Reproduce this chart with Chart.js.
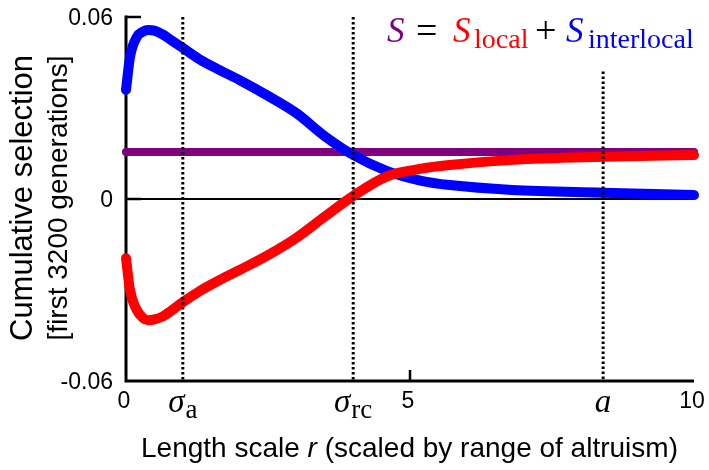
<!DOCTYPE html>
<html>
<head>
<meta charset="utf-8">
<script src="https://cdn.jsdelivr.net/npm/chart.js@4/dist/chart.umd.min.js"></script>
<style>
  html, body { margin: 0; padding: 0; background: #fff; }
  canvas { display: block; }
</style>
</head>
<body>
<canvas id="chart" width="709" height="470"></canvas>
<script>
// Length scale r (in units of the range of altruism)
const rValues     = [0, 0.07, 0.19, 0.3, 0.39, 0.5, 0.65, 0.8, 1.0, 1.3, 1.65, 2.0, 2.5, 3.0, 3.5, 4.0, 4.6, 5.2, 5.7, 6.8, 8.4, 10];
// Interlocal selection component (blue)
const sInterlocal = [0.036, 0.0468, 0.0534, 0.0552, 0.0557, 0.0555, 0.0542, 0.0523, 0.0498, 0.046, 0.0425, 0.0392, 0.034, 0.0283, 0.0207, 0.0145, 0.0092, 0.006, 0.0046, 0.003, 0.0021, 0.0013];
// Local selection component (red)
const sLocal      = [-0.0195, -0.030, -0.0366, -0.0392, -0.040, -0.0397, -0.0387, -0.0368, -0.034, -0.0303, -0.0267, -0.0234, -0.0185, -0.0128, -0.0058, 0.001, 0.0075, 0.01, 0.0112, 0.0129, 0.0139, 0.0145];
// Total selection S (purple), flat over the whole range
const rSpan  = [0, 10];
const sTotal = [0.0155, 0.0155];

// Axis ticks
const xTicks = [0, 5, 10];
const yTicks = [-0.06, 0, 0.06];
const xMin = 0, xMax = 10, yMin = -0.06, yMax = 0.06;

// Characteristic length scales marked with dotted lines
const markerR     = [1.0, 4.0, 8.4];
const markerTop   = [0.06, 0.06, 0.042];
const markerSym   = ['σ', 'σ', 'a'];
const markerSub   = ['a', 'rc', ''];

const toPts = (xs, ys) => xs.map((v, i) => ({ x: v, y: ys[i] }));

const curveStyle = {
  pointRadius: 0,
  borderCapStyle: 'round',
  borderJoinStyle: 'round',
  cubicInterpolationMode: 'monotone',
  fill: false,
  clip: false
};

const markerSets = markerR.map((r, i) => ({
  data: [{ x: r, y: markerTop[i] }, { x: r, y: yMin }],
  borderColor: '#000',
  borderWidth: 3,
  borderDash: [2.5, 2.5],
  borderCapStyle: 'butt',
  pointRadius: 0,
  clip: false,
  order: 0
}));

const SANS = '"Liberation Sans", Arial, sans-serif';
const SERIF = '"Liberation Serif", "Times New Roman", serif';

// Axes frame, inward ticks and all text
const framePlugin = {
  id: 'frame',
  beforeDatasetsDraw(chart) {
    const { ctx, scales: { x, y } } = chart;
    const x0 = x.getPixelForValue(xMin), x1 = x.getPixelForValue(xMax);
    const yT = y.getPixelForValue(yMax), yB = y.getPixelForValue(yMin);
    ctx.save();
    ctx.strokeStyle = '#000';
    ctx.lineWidth = 3;
    ctx.lineCap = 'butt';
    ctx.beginPath();
    ctx.moveTo(x0, yT - 1.5);
    ctx.lineTo(x0, yB);
    ctx.lineTo(x1, yB);
    ctx.stroke();
    ctx.lineWidth = 2.5;
    yTicks.forEach(v => {
      if (v <= yMin) return;
      const py = y.getPixelForValue(v);
      ctx.beginPath();
      ctx.moveTo(x0, py);
      ctx.lineTo(x0 + 15, py);
      ctx.stroke();
    });
    xTicks.forEach(v => {
      if (v <= xMin || v >= xMax) return;
      const px = x.getPixelForValue(v);
      ctx.beginPath();
      ctx.moveTo(px, yB);
      ctx.lineTo(px, yB - 11);
      ctx.stroke();
    });
    ctx.restore();
  },
  afterDraw(chart) {
    const { ctx, scales: { x, y } } = chart;
    const yB = y.getPixelForValue(yMin);
    ctx.save();
    ctx.fillStyle = '#000';

    // y tick labels
    ctx.font = '23px ' + SANS;
    ctx.textAlign = 'right';
    ctx.textBaseline = 'alphabetic';
    yTicks.forEach(v => {
      const lbl = v === 0 ? '0' : v.toFixed(2);
      ctx.fillText(lbl, 113, y.getPixelForValue(v) + 8);
    });

    // x tick labels
    ctx.textAlign = 'center';
    xTicks.forEach(v => {
      ctx.fillText(String(v), x.getPixelForValue(v) - 2, yB + 27);
    });

    // symbolic markers under the axis
    ctx.textAlign = 'left';
    markerR.forEach((r, i) => {
      const symFont = 'italic 33px ' + SERIF;
      const subFont = '27px ' + SERIF;
      ctx.font = symFont;
      const w1 = ctx.measureText(markerSym[i]).width;
      ctx.font = subFont;
      const w2 = markerSub[i] ? ctx.measureText(markerSub[i]).width + 1 : 0;
      const start = x.getPixelForValue(r) - (w1 + w2) / 2;
      ctx.font = symFont;
      ctx.fillText(markerSym[i], start, yB + 31);
      if (markerSub[i]) {
        ctx.font = subFont;
        ctx.fillText(markerSub[i], start + w1 + 1, yB + 37);
      }
    });

    // x axis title with italic r
    const parts = [
      ['Length scale ', '28px ' + SANS],
      ['r', 'italic 28px ' + SANS],
      [' (scaled by range of altruism)', '28px ' + SANS]
    ];
    let total = 0;
    parts.forEach(p => { ctx.font = p[1]; total += ctx.measureText(p[0]).width; });
    let cx = 409.5 - total / 2;
    parts.forEach(p => {
      ctx.font = p[1];
      ctx.fillText(p[0], cx, 457);
      cx += ctx.measureText(p[0]).width;
    });

    // y axis title (two lines, rotated)
    ctx.save();
    ctx.translate(0, 198);
    ctx.rotate(-Math.PI / 2);
    ctx.textAlign = 'center';
    ctx.font = '31px ' + SANS;
    ctx.fillText('Cumulative selection', 0, 32);
    ctx.font = '28px ' + SANS;
    ctx.fillText('[first 3200 generations]', 0, 67);
    ctx.restore();

    // equation legend: [text, font, colour, left x, baseline]
    const eq = [
      ['S', 'italic 35px ' + SERIF, '#800080', 387, 42],
      ['=', '38px ' + SERIF, '#000', 416, 43],
      ['S', 'italic 35px ' + SERIF, '#ff0000', 453, 42],
      ['local', '28px ' + SERIF, '#ff0000', 474, 48],
      ['+', '38px ' + SERIF, '#000', 535, 43],
      ['S', 'italic 35px ' + SERIF, '#0000ff', 566, 42],
      ['interlocal', '28px ' + SERIF, '#0000ff', 588, 48]
    ];
    eq.forEach(p => {
      ctx.font = p[1];
      ctx.fillStyle = p[2];
      ctx.fillText(p[0], p[3], p[4]);
    });
    ctx.restore();
  }
};

new Chart(document.getElementById('chart'), {
  type: 'line',
  data: {
    datasets: [
      ...markerSets,
      { data: toPts(rValues, sLocal), borderColor: '#ff0000', borderWidth: 10, order: 1, ...curveStyle },
      { data: toPts(rValues, sInterlocal), borderColor: '#0000ff', borderWidth: 10, order: 2, ...curveStyle },
      { data: toPts(rSpan, sTotal), borderColor: '#800080', borderWidth: 8, order: 3, ...curveStyle },
      { data: toPts(rSpan, [0, 0]), borderColor: '#000', borderWidth: 2, pointRadius: 0, clip: false, order: 4 }
    ]
  },
  options: {
    responsive: false,
    animation: false,
    events: [],
    layout: { padding: { left: 126, right: 15, top: 17, bottom: 89 } },
    plugins: { legend: { display: false }, tooltip: { enabled: false } },
    scales: {
      x: { type: 'linear', min: xMin, max: xMax, display: false },
      y: { type: 'linear', min: yMin, max: yMax, display: false }
    }
  },
  plugins: [framePlugin]
});
</script>
</body>
</html>
